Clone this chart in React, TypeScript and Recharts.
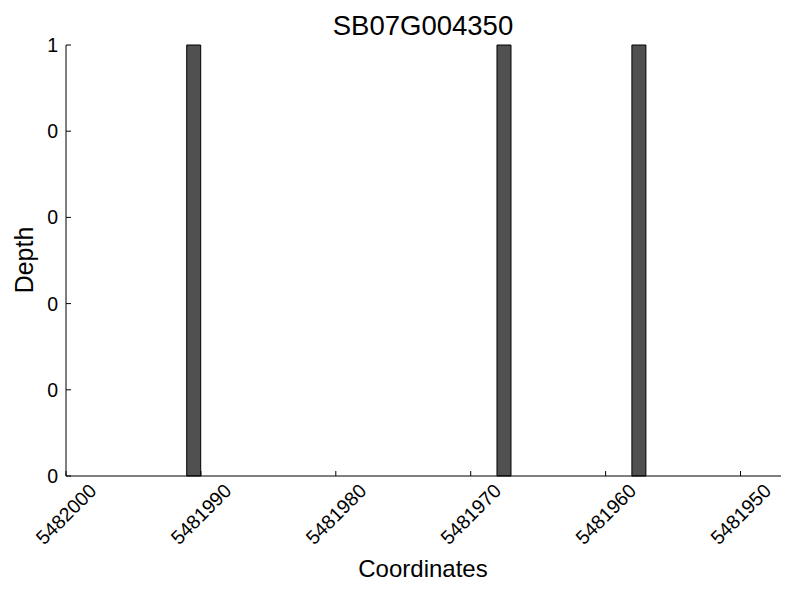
import { BarChart, Bar, XAxis, YAxis } from "recharts";

// read-depth coverage for SB07G004350 (x axis runs backwards)
const positions = [5481990.5, 5481967.5, 5481957.5];
const depths = [1, 1, 1];
const xTicks = [5482000, 5481990, 5481980, 5481970, 5481960, 5481950];
const xDomain = [5481947, 5482000];
const yTicks = [0, 0.2, 0.4, 0.6, 0.8, 1];

const FONT = '"Liberation Sans", Arial, sans-serif';

const data = positions.map((pos, i) => ({ pos, depth: depths[i] }));

// ticks point inward, labels rotated 45°
function XTick(props: any) {
  const { x, y, payload } = props;
  const cy = y + 38;
  return (
    <g>
      <line x1={x} y1={y} x2={x} y2={y - 5} stroke="#000" />
      <text
        x={x}
        y={cy}
        transform={`rotate(-45 ${x} ${cy})`}
        textAnchor="middle"
        dominantBaseline="central"
        fontSize={19.5}
        fontFamily={FONT}
        fill="#000"
      >
        {payload.value}
      </text>
    </g>
  );
}

function YTick(props: any) {
  const { x, y, payload } = props;
  return (
    <g>
      <line x1={x} y1={y} x2={x + 5} y2={y} stroke="#000" />
      <text
        x={x - 8}
        y={y}
        textAnchor="end"
        dominantBaseline="central"
        fontSize={19.5}
        fontFamily={FONT}
        fill="#000"
      >
        {Math.floor(payload.value)}
      </text>
    </g>
  );
}

export default function App() {
  return (
    <div style={{ position: "absolute", left: 0, top: 0, width: 800, height: 600, background: "#fff" }}>
      <BarChart width={800} height={600} data={data} margin={{ top: 45, right: 19, left: 26, bottom: 0 }}>
        <XAxis
          dataKey="pos"
          type="number"
          domain={xDomain}
          ticks={xTicks}
          reversed
          allowDataOverflow
          interval={0}
          height={124}
          tickSize={0}
          tickMargin={0}
          axisLine={{ stroke: "#000", strokeWidth: 1 }}
          tick={<XTick />}
        />
        <YAxis
          dataKey="depth"
          type="number"
          domain={[0, 1]}
          ticks={yTicks}
          interval={0}
          width={40}
          tickSize={0}
          tickMargin={0}
          axisLine={{ stroke: "#000", strokeWidth: 1 }}
          tick={<YTick />}
        />
        <Bar dataKey="depth" barSize={14} fill="#505050" stroke="#000" strokeWidth={1} isAnimationActive={false} />
      </BarChart>
      <svg width={800} height={600} style={{ position: "absolute", left: 0, top: 0, pointerEvents: "none" }}>
        <text x={423} y={35} textAnchor="middle" fontSize={27.5} fontFamily={FONT} fill="#000">
          SB07G004350
        </text>
        <text x={423} y={577} textAnchor="middle" fontSize={24} fontFamily={FONT} fill="#000">
          Coordinates
        </text>
        <text x={33} y={260} transform="rotate(-90 33 260)" textAnchor="middle" fontSize={25} fontFamily={FONT} fill="#000">
          Depth
        </text>
      </svg>
    </div>
  );
}
